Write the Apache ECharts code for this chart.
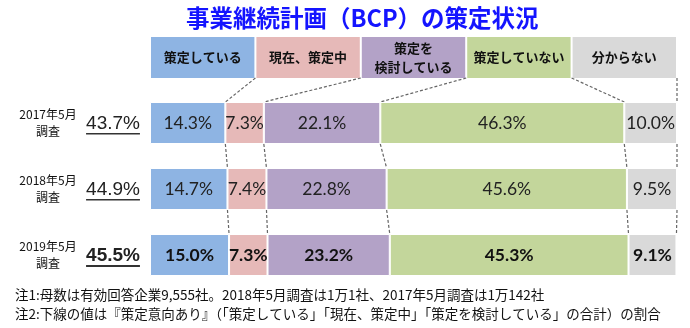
<!DOCTYPE html>
<html><head><meta charset="utf-8">
<script src="https://cdn.jsdelivr.net/npm/echarts@6/dist/echarts.min.js"></script>
<style>html,body{margin:0;padding:0;background:#fff}#c{width:690px;height:328px}</style>
</head><body><div id="c"></div>
<script>
const titleText = '事業継続計画（BCP）の策定状況';
const categories = ['2017年5月\n調査', '2018年5月\n調査', '2019年5月\n調査'];
const intentRates = [43.7, 44.9, 45.5];
const seriesNames = ['策定している', '現在、策定中', '策定を\n検討している', '策定していない', '分からない'];
const planned = [14.3, 14.7, 15.0];
const inProgress = [7.3, 7.4, 7.3];
const considering = [22.1, 22.8, 23.2];
const notPlanned = [46.3, 45.6, 45.3];
const unknown = [10.0, 9.5, 9.1];
const notes = [
  '注1:母数は有効回答企業9,555社。2018年5月調査は1万1社、2017年5月調査は1万142社',
  '注2:下線の値は『策定意向あり』（「策定している」「現在、策定中」「策定を検討している」の合計）の割合'
];
const seriesValues = [planned, inProgress, considering, notPlanned, unknown];
const colors = ['#8EB4E3', '#E6B9B8', '#B3A2C7', '#C3D69B', '#D9D9D9'];
const boldRow = 2;
const JP = '"Noto Sans CJK JP", sans-serif';

const chart = echarts.init(document.getElementById('c'), null, {renderer: 'canvas'});
const option = {
  animation: false,
  backgroundColor: '#fff',
  title: {
    text: titleText, left: 186, top: 6, padding: 0,
    textStyle: {fontSize: 23.5, fontWeight: 'bold', color: '#1414FF', fontFamily: JP}
  },
  grid: {left: 150, right: 13, top: 90, bottom: 40},
  xAxis: {type: 'value', min: 0, max: 100, show: false},
  yAxis: {
    type: 'category', inverse: true, data: categories,
    axisLine: {show: false}, axisTick: {show: false}, splitLine: {show: false},
    axisLabel: {align: 'center', margin: 102, fontSize: 12, lineHeight: 17, color: '#111', fontFamily: JP}
  },
  series: seriesValues.map((vals, i) => ({
    name: seriesNames[i], type: 'bar', stack: 'total', barWidth: 42,
    itemStyle: {color: colors[i], borderColor: '#fff', borderWidth: 1},
    label: {
      show: true, position: 'inside', fontSize: 17.5, fontFamily: 'Lato, sans-serif', color: '#222',
      formatter: p => p.value.toFixed(1) + '%'
    },
    data: vals.map((v, j) => j === boldRow ? {value: v, label: {fontWeight: 'bold', color: '#111'}} : {value: v})
  }))
};
chart.setOption(option);

function buildGraphics() {
  const g = [];
  const px = (x, row) => chart.convertToPixel({gridIndex: 0}, [x, row]);
  const x0 = px(0, 0)[0], x1 = px(100, 0)[0];
  const W = (x1 - x0) / 5;
  const half = 21;
  const legTop = 37, legBot = 78;
  const dash = {stroke: '#666', lineWidth: 1.2, lineDash: [3, 2]};
  seriesNames.forEach((n, k) => {
    g.push({type: 'rect', shape: {x: x0 + k * W + 1, y: legTop, width: W - 2, height: legBot - legTop},
      style: {fill: colors[k]}, silent: true});
    g.push({type: 'text', x: x0 + k * W + W / 2, y: (legTop + legBot) / 2,
      style: {text: n, align: 'center', verticalAlign: 'middle', font: 'bold 13px ' + JP, fill: '#111', lineHeight: 19}});
  });
  const cums = categories.map((c, r) => {
    let s = 0; return seriesValues.map(v => (s += v[r]));
  });
  for (let k = 1; k <= 5; k++) {
    const top = px(0, 0)[1] - half;
    g.push({type: 'line', shape: {x1: x0 + k * W, y1: legBot, x2: px(cums[0][k - 1], 0)[0], y2: top}, style: dash, silent: true});
  }
  for (let r = 0; r < categories.length - 1; r++) {
    const yb = px(0, r)[1] + half, yt = px(0, r + 1)[1] - half;
    for (let k = 1; k <= 5; k++) {
      g.push({type: 'line', shape: {x1: px(cums[r][k - 1], r)[0], y1: yb, x2: px(cums[r + 1][k - 1], r + 1)[0], y2: yt}, style: dash, silent: true});
    }
  }
  const ctx = document.createElement('canvas').getContext('2d');
  intentRates.forEach((v, r) => {
    const cy = px(0, r)[1];
    const bold = r === boldRow;
    const font = (bold ? 'bold ' : '') + '19px "Liberation Sans", Arial, sans-serif';
    const t = v.toFixed(1) + '%';
    ctx.font = font;
    const w = ctx.measureText(t).width;
    const cx = 113;
    g.push({type: 'text', x: cx, y: cy + 1, style: {text: t, align: 'center', verticalAlign: 'middle', font: font, fill: '#222'}});
    g.push({type: 'rect', shape: {x: cx - w / 2, y: cy + 10, width: w, height: bold ? 2 : 1.5}, style: {fill: '#333'}, silent: true});
  });
  notes.forEach((n, i) => {
    g.push({type: 'text', x: 15, y: 295 + i * 19, style: {text: n, align: 'left', verticalAlign: 'middle', font: '13.5px ' + JP, fill: '#111'}});
  });
  chart.setOption({graphic: g});
}
buildGraphics();
</script>
</body></html>
